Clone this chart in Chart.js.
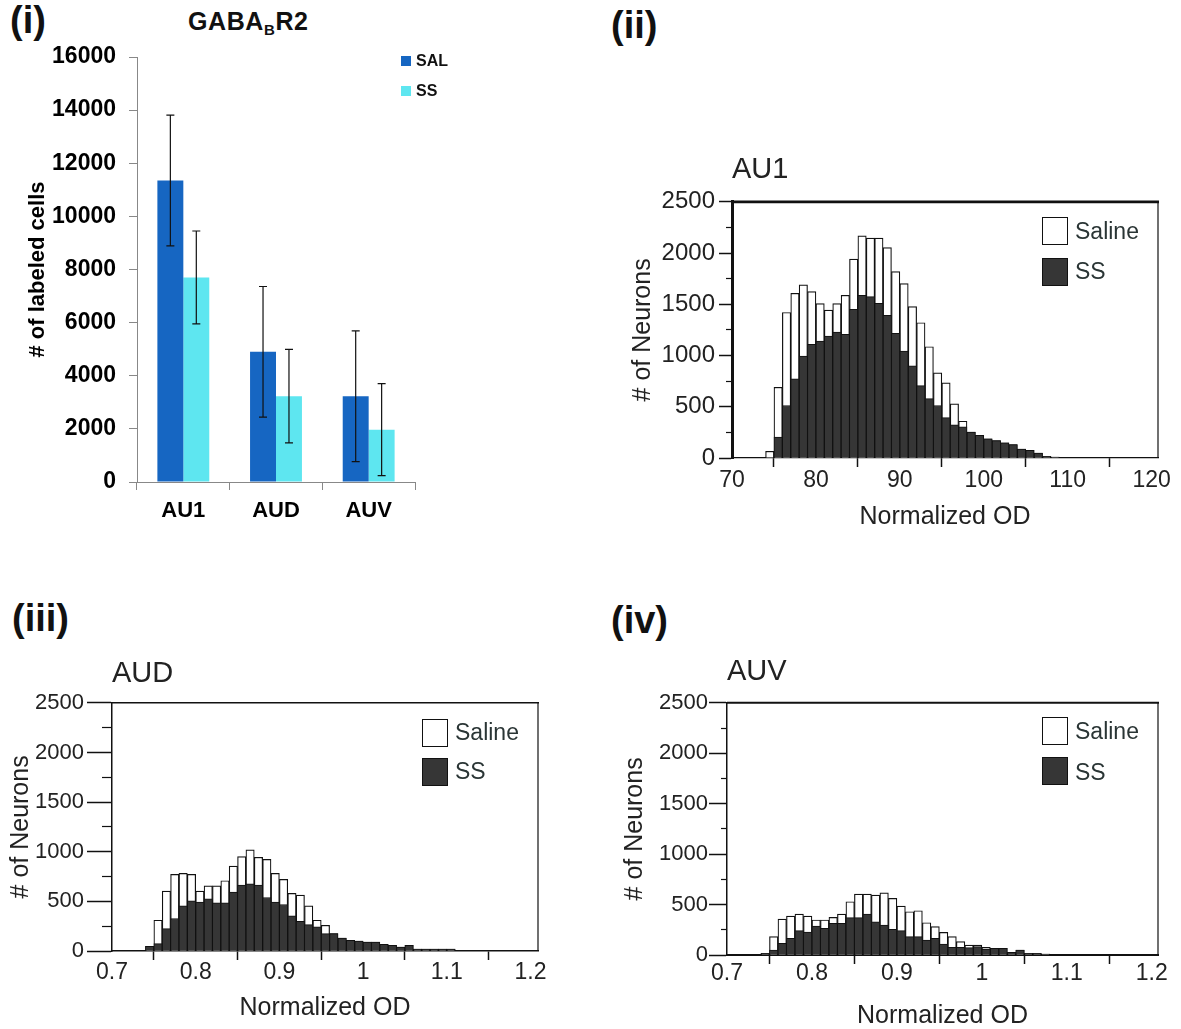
<!DOCTYPE html>
<html>
<head>
<meta charset="utf-8">
<script src="https://cdn.jsdelivr.net/npm/chart.js@4.4.1/dist/chart.umd.min.js"></script>
<style>
  html, body { margin: 0; padding: 0; background: #fff; }
  body { position: relative; width: 1181px; height: 1029px; overflow: hidden;
         font-family: "Liberation Sans", Arial, sans-serif; color: #222; }
  canvas, .lbl, .key, .key2, .gaba { position: absolute; }
  .lbl { font-weight: bold; font-size: 38px; line-height: 1; color: #111; }
  .gaba { font-weight: bold; font-size: 25px; line-height: 1; color: #111; letter-spacing: 0.6px; }
  .gaba sub { font-size: 15px; vertical-align: -5px; line-height: 0; }
  .key { width: 130px; height: 80px; }
  .key .sw { position: absolute; left: 0; width: 26px; height: 28px; box-sizing: border-box;
             border: 1.5px solid #111; background: #fff; }
  .key .sw.dark { background: #363636; }
  .key .tx { position: absolute; left: 33px; font-size: 23px; line-height: 23px; color: #2a3535; }
  .key2 { width: 70px; height: 45px; }
  .key2 .sw { position: absolute; left: 0; width: 10px; height: 10px; }
  .key2 .tx { position: absolute; left: 15px; font-size: 16px; line-height: 16px; font-weight: bold; color: #111; }
</style>
</head>
<body>
<div class="lbl" style="left:10px; top:1px;">(i)</div>
<div class="lbl" style="left:611px; top:6px;">(ii)</div>
<div class="lbl" style="left:12px; top:599px;">(iii)</div>
<div class="lbl" style="left:611px; top:601px;">(iv)</div>
<div class="gaba" style="left:188px; top:9px;">GABA<sub>B</sub>R2</div>

<canvas id="cells" width="470" height="545" style="left:0; top:0;"></canvas>
<canvas id="au1" width="560" height="390" style="left:620px; top:150px;"></canvas>
<canvas id="aud" width="560" height="384" style="left:0; top:645px;"></canvas>
<canvas id="auv" width="566" height="384" style="left:615px; top:645px;"></canvas>

<!-- leyendas -->
<div class="key2" style="left:401px; top:56px;">
  <div class="sw" style="top:0; background:#1666c2;"></div><div class="tx" style="top:-3px;">SAL</div>
  <div class="sw" style="top:30px; background:#5ee6f0;"></div><div class="tx" style="top:27px;">SS</div>
</div>
<div class="key" style="left:1042px; top:217px;">
  <div class="sw" style="top:0;"></div><div class="tx" style="top:3px;">Saline</div>
  <div class="sw dark" style="top:41px;"></div><div class="tx" style="top:43px;">SS</div>
</div>
<div class="key" style="left:422px; top:719px;">
  <div class="sw" style="top:0;"></div><div class="tx" style="top:2px;">Saline</div>
  <div class="sw dark" style="top:39px;"></div><div class="tx" style="top:41px;">SS</div>
</div>
<div class="key" style="left:1042px; top:717px;">
  <div class="sw" style="top:0;"></div><div class="tx" style="top:3px;">Saline</div>
  <div class="sw dark" style="top:40px;"></div><div class="tx" style="top:44px;">SS</div>
</div>

<script>
// Panel (i): celulas marcadas por region (media +- error)
const regions = ["AU1", "AUD", "AUV"];
const salCells = [11350, 4900, 3230];
const salError = [2460, 2460, 2460];
const ssCells = [7700, 3230, 1970];
const ssError = [1750, 1760, 1730];
const cellTicks = [0, 2000, 4000, 6000, 8000, 10000, 12000, 14000, 16000];

// Histogramas: numero de neuronas por intervalo de OD normalizada
const countTicks = [0, 500, 1000, 1500, 2000, 2500];
const countMinorTicks = [250, 750, 1250, 1750, 2250];

// (ii) AU1
const au1Ticks = [70, 80, 90, 100, 110, 120];
const au1Bins = [74.5, 75.5, 76.5, 77.5, 78.5, 79.5, 80.5, 81.5, 82.5, 83.5, 84.5, 85.5,
  86.5, 87.5, 88.5, 89.5, 90.5, 91.5, 92.5, 93.5, 94.5, 95.5, 96.5, 97.5, 98.5, 99.5,
  100.5, 101.5, 102.5, 103.5, 104.5, 105.5, 106.5, 107.5, 108.5];
const au1Saline = [65, 690, 1420, 1607, 1689, 1623, 1506, 1444, 1506, 1588, 1940, 2168,
  2145, 2145, 2054, 1819, 1702, 1477, 1320, 1086, 831, 733, 528, 359, 254, 222,
  186, 170, 147, 130, 88, 75, 49, 16, 10];
const au1SS = [0, 205, 512, 773, 994, 1108, 1141, 1190, 1229, 1206, 1451, 1588,
  1575, 1509, 1392, 1216, 1043, 900, 707, 580, 512, 394, 323, 303, 254, 222,
  186, 170, 147, 130, 88, 75, 49, 16, 10];

// (iii) AUD y (iv) AUV
const odTicks = [0.7, 0.8, 0.9, 1, 1.1, 1.2];
const audBins = [0.745, 0.755, 0.765, 0.775, 0.785, 0.795, 0.805, 0.815, 0.825, 0.835,
  0.845, 0.855, 0.865, 0.875, 0.885, 0.895, 0.905, 0.915, 0.925, 0.935, 0.945, 0.955,
  0.965, 0.975, 0.985, 0.995, 1.005, 1.015, 1.025, 1.035, 1.045, 1.055, 1.065, 1.075,
  1.085, 1.095, 1.105];
const audSaline = [47, 310, 603, 772, 782, 772, 603, 657, 657, 708, 856, 950, 1018, 944,
  923, 782, 721, 580, 563, 455, 310, 259, 175, 131, 108, 101, 91, 91, 67, 57,
  40, 57, 20, 20, 20, 20, 20];
const audSS = [47, 74, 226, 327, 455, 505, 492, 526, 485, 485, 593, 664, 677, 664,
  539, 492, 468, 354, 300, 266, 243, 175, 175, 131, 108, 101, 91, 91, 67, 57,
  40, 57, 20, 20, 20, 20, 20];

const auvBins = [0.745, 0.755, 0.765, 0.775, 0.785, 0.795, 0.805, 0.815, 0.825, 0.835,
  0.845, 0.855, 0.865, 0.875, 0.885, 0.895, 0.905, 0.915, 0.925, 0.935, 0.945, 0.955,
  0.965, 0.975, 0.985, 0.995, 1.005, 1.015, 1.025, 1.035, 1.045, 1.055, 1.065, 1.075];
const auvSaline = [16, 182, 356, 386, 406, 386, 347, 347, 373, 406, 528, 604, 604, 594,
  617, 561, 485, 429, 439, 320, 281, 224, 182, 132, 99, 99, 76, 66, 66, 26,
  50, 16, 16, 10];
const auvSS = [16, 50, 116, 165, 241, 228, 287, 264, 314, 314, 370, 370, 406, 330,
  297, 254, 241, 182, 182, 149, 165, 109, 76, 76, 73, 83, 59, 66, 66, 26,
  50, 16, 16, 10];

Chart.defaults.font.family = '"Liberation Sans", Arial, sans-serif';
Chart.defaults.color = "#222";

// Marco superior y derecho del area del grafico
const frame = {
  id: "frame",
  afterDraw(chart, args, opts) {
    const { ctx, chartArea: a } = chart;
    ctx.save();
    ctx.strokeStyle = "#111";
    ctx.lineWidth = opts.top;
    ctx.beginPath(); ctx.moveTo(a.left, a.top); ctx.lineTo(a.right + 1, a.top); ctx.stroke();
    ctx.lineWidth = opts.right;
    ctx.beginPath(); ctx.moveTo(a.right, a.top); ctx.lineTo(a.right, a.bottom); ctx.stroke();
    ctx.restore();
  }
};

// Barras de error para el panel (i)
const errorBars = {
  id: "errorBars",
  afterDatasetsDraw(chart) {
    const { ctx, scales: { y } } = chart;
    ctx.save();
    ctx.strokeStyle = "#111";
    ctx.lineWidth = 1.2;
    chart.data.datasets.forEach((ds, di) => {
      chart.getDatasetMeta(di).data.forEach((bar, i) => {
        const hi = y.getPixelForValue(ds.data[i] + ds.errors[i]);
        const lo = y.getPixelForValue(ds.data[i] - ds.errors[i]);
        ctx.beginPath();
        ctx.moveTo(bar.x, hi); ctx.lineTo(bar.x, lo);
        ctx.moveTo(bar.x - 4, hi); ctx.lineTo(bar.x + 4, hi);
        ctx.moveTo(bar.x - 4, lo); ctx.lineTo(bar.x + 4, lo);
        ctx.stroke();
      });
    });
    ctx.restore();
  }
};

// Panel (i)
new Chart(document.getElementById("cells"), {
  type: "bar",
  data: {
    labels: regions,
    datasets: [
      { label: "SAL", data: salCells, errors: salError, backgroundColor: "#1666c2" },
      { label: "SS", data: ssCells, errors: ssError, backgroundColor: "#5ee6f0" }
    ]
  },
  options: {
    responsive: false,
    animation: false,
    datasets: { bar: { categoryPercentage: 0.56, barPercentage: 1 } },
    layout: { padding: { top: 57, right: 55, left: 0, bottom: 0 } },
    plugins: { legend: { display: false }, tooltip: { enabled: false } },
    scales: {
      x: {
        afterFit: (s) => { s.height = 63; },
        ticks: { color: "#000", font: { size: 22, weight: "bold" }, padding: 8 },
        grid: { drawOnChartArea: false, tickLength: 8, tickColor: "#888", offset: true },
        border: { color: "#888" }
      },
      y: {
        min: 0,
        max: 16000,
        afterBuildTicks: (s) => { s.ticks = cellTicks.map((v) => ({ value: v })); },
        afterFit: (s) => { s.width = 137; },
        ticks: { color: "#000", font: { size: 23, weight: "bold" }, padding: 13, callback: (v) => String(v) },
        grid: { drawOnChartArea: false, tickLength: 8, tickColor: "#888" },
        border: { color: "#888" },
        title: {
          display: true, text: "# of labeled cells", color: "#000",
          font: { size: 22, weight: "bold", lineHeight: 1 }, padding: { top: 27, bottom: 0 }
        }
      }
    }
  },
  plugins: [errorBars]
});

// Histograma con Saline (blanco) detras y SS (oscuro) delante
function histogram(id, title, bins, saline, ss, xTicks, c) {
  return new Chart(document.getElementById(id), {
    type: "bar",
    data: {
      datasets: [
        { label: "SS", data: bins.map((b, i) => ({ x: b, y: ss[i] })),
          backgroundColor: "#363636", borderColor: "#111", borderWidth: 1 },
        { label: "Saline", data: bins.map((b, i) => ({ x: b, y: saline[i] })),
          backgroundColor: "#fff", borderColor: "#111", borderWidth: 1.2 }
      ]
    },
    options: {
      responsive: false,
      animation: false,
      datasets: { bar: { grouped: false, barPercentage: 1, categoryPercentage: 1 } },
      layout: { padding: { left: 0, right: c.padRight, top: 0, bottom: 0 } },
      plugins: {
        legend: { display: false },
        tooltip: { enabled: false },
        title: { display: true, text: title, align: "start", fullSize: false, color: "#222",
                 font: { size: 29, weight: "normal" }, padding: c.titlePad },
        frame: { top: c.frameTop, right: 1.2 }
      },
      scales: {
        x: {
          type: "linear",
          min: xTicks[0],
          max: c.xMax,
          offset: false,
          afterBuildTicks: (s) => { s.ticks = xTicks.map((v) => ({ value: v })); },
          afterFit: (s) => { s.height = c.xHeight; },
          ticks: { color: "#222", font: { size: 23 }, padding: c.xTickPad, maxRotation: 0,
                   autoSkip: false, callback: (v) => String(v) },
          grid: { drawOnChartArea: false, tickLength: 9, tickWidth: 1.5, tickColor: "#111" },
          border: { color: "#111", width: c.xBorder },
          title: { display: true, text: "Normalized OD", color: "#222",
                   font: { size: 25, lineHeight: 1 }, padding: { top: 0, bottom: c.xTitlePad } }
        },
        y: {
          min: 0,
          max: 2500,
          afterBuildTicks: (s) => { s.ticks = countTicks.map((v) => ({ value: v })); },
          afterFit: (s) => { s.width = 112; },
          ticks: { color: "#222", font: { size: c.yFont }, padding: c.yTickPad, callback: (v) => String(v) },
          grid: { drawOnChartArea: false, tickLength: c.majorTick, tickWidth: 1.5, tickColor: "#111" },
          border: { color: "#111", width: c.yBorder },
          title: { display: true, text: "# of Neurons", color: "#222",
                   font: { size: 25, lineHeight: 1 }, padding: { top: c.yTitlePad, bottom: 0 } }
        },
        yMinor: {
          position: "left",
          weight: -1,
          min: 0,
          max: 2500,
          afterBuildTicks: (s) => { s.ticks = countMinorTicks.map((v) => ({ value: v })); },
          afterFit: (s) => { s.width = 0; },
          ticks: { display: false },
          grid: { drawOnChartArea: false, tickLength: c.minorTick, tickWidth: 1.2, tickColor: "#111" },
          border: { display: false }
        }
      }
    },
    plugins: [frame]
  });
}

histogram("au1", "AU1", au1Bins, au1Saline, au1SS, au1Ticks, {
  padRight: 22, xMax: 120.76, xHeight: 82, titlePad: { top: 3, bottom: 14 },
  frameTop: 2.7, xBorder: 1.2, yBorder: 3, majorTick: 13, minorTick: 6,
  yFont: 24, yTickPad: 4, yTitlePad: 11, xTickPad: 0, xTitlePad: 10
});
histogram("aud", "AUD", audBins, audSaline, audSS, odTicks, {
  padRight: 22, xMax: 1.209, xHeight: 78, titlePad: { top: 12, bottom: 11 },
  frameTop: 1.5, xBorder: 1.5, yBorder: 1.5, majorTick: 25, minorTick: 10,
  yFont: 22, yTickPad: 3, yTitlePad: 9, xTickPad: -1, xTitlePad: 8
});
histogram("auv", "AUV", auvBins, auvSaline, auvSS, odTicks, {
  padRight: 23, xMax: 1.2074, xHeight: 74, titlePad: { top: 10, bottom: 13 },
  frameTop: 2, xBorder: 2, yBorder: 1.5, majorTick: 18, minorTick: 6,
  yFont: 22, yTickPad: 1, yTitlePad: 8, xTickPad: -4, xTitlePad: 0
});
</script>
</body>
</html>
